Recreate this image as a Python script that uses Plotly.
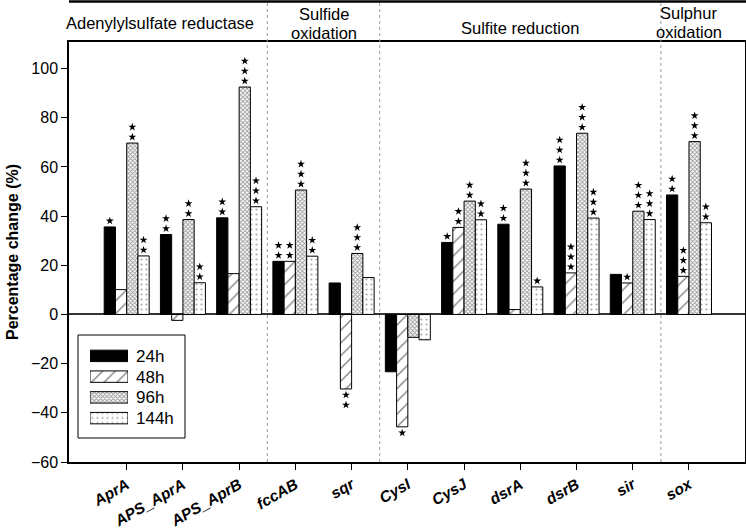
import plotly.graph_objects as go

categories = ["AprA", "APS_AprA", "APS_AprB", "fccAB", "sqr", "CysI", "CysJ", "dsrA", "dsrB", "sir", "sox"]
series_names = ["24h", "48h", "96h", "144h"]
v24 = [35.6, 32.5, 39.3, 21.6, 12.8, -23.3, 29.3, 36.7, 60.4, 16.3, 48.6]
v48 = [10.1, -2.4, 16.6, 21.6, -30.3, -45.7, 35.4, 2.0, 16.9, 12.8, 15.5]
v96 = [69.7, 38.6, 92.5, 50.6, 24.8, -9.3, 46.1, 51.0, 73.7, 42.0, 70.3]
v144 = [23.8, 12.9, 43.8, 23.7, 15.0, -10.3, 38.5, 11.2, 39.2, 38.6, 37.3]
# number of significance asterisks per bar
s24 = [1, 2, 2, 2, 0, 0, 1, 2, 3, 0, 2]
s48 = [0, 0, 0, 2, 2, 1, 2, 0, 3, 1, 3]
s96 = [2, 2, 3, 3, 3, 0, 2, 3, 3, 3, 3]
s144 = [2, 2, 3, 2, 0, 0, 2, 1, 3, 3, 2]
group_labels = ["Adenylylsulfate reductase", "Sulfide<br>oxidation", "Sulfite reduction", "Sulphur<br>oxidation"]
group_bounds = [(-0.5, 2.5), (2.5, 4.5), (4.5, 9.5), (9.5, 10.5)]
separators = [2.5, 4.5, 9.5]
y_ticks = [-60, -40, -20, 0, 20, 40, 60, 80, 100]

values = [v24, v48, v96, v144]
stars = [s24, s48, s96, s144]
patterns = [
    dict(shape="", fillmode="replace"),
    dict(shape="/", fgcolor="black", bgcolor="white", size=9, solidity=0.15),
    dict(shape="x", fgcolor="#333333", bgcolor="white", size=3, solidity=0.5),
    dict(shape=".", fgcolor="#555555", bgcolor="white", size=5, solidity=0.15),
]
colors = ["black", "white", "white", "white"]

# plot area in pixels
L, R, T, B = 69, 745, 42, 462
W, H = R - L, B - T


def px2paper(px):
    return (px - L) / W


def py2paper(py):
    return (B - py) / H


xs = list(range(len(categories)))
bw = 0.2
fig = go.Figure()
star_x, star_y = [], []
for j, name in enumerate(series_names):
    off = -2 * bw + j * bw
    fig.add_trace(go.Bar(
        x=xs, y=values[j], name=name, width=bw, offset=off, showlegend=False,
        marker=dict(color=colors[j], pattern=patterns[j], line=dict(color="black", width=1)),
    ))
    for i, v in enumerate(values[j]):
        for k in range(stars[j][i]):
            d = (6 + 10 * k) / 2.459
            star_x.append(i + off + bw / 2)
            star_y.append(v + d if v >= 0 else v - d)

fig.add_trace(go.Scatter(x=star_x, y=star_y, mode="markers", showlegend=False,
                         marker=dict(symbol="star", size=6, color="black")))

# custom legend: patterned swatches on a small auxiliary axis
for j, name in enumerate(series_names):
    fig.add_trace(go.Bar(
        x=[1], y=[j], base=0, orientation="h", width=0.55, xaxis="x2", yaxis="y2",
        showlegend=False, hoverinfo="skip",
        marker=dict(color=colors[j], pattern=patterns[j], line=dict(color="black", width=1)),
    ))

shapes = []
for s in separators:
    shapes.append(dict(type="line", xref="x", yref="paper", x0=s, x1=s, y0=0, y1=1.093,
                       line=dict(color="#9a9a9a", width=1, dash="dot")))
shapes.append(dict(type="line", xref="paper", yref="paper", x0=0, x1=1.002, y0=1.0965, y1=1.0965,
                   line=dict(color="black", width=2.5)))
shapes.append(dict(type="rect", xref="paper", yref="paper", x0=px2paper(78), x1=px2paper(185),
                   y0=py2paper(438), y1=py2paper(335), line=dict(color="black", width=1),
                   fillcolor="white", layer="below"))

# header text: pixel y of each line
line_pos = [[23], [14, 33], [28], [13, 32]]
label_x = [0.6, None, None, None]
annotations = []
for gi, (lab, (a, b)) in enumerate(zip(group_labels, group_bounds)):
    parts = lab.split("<br>")
    xc = label_x[gi] if label_x[gi] is not None else (a + b) / 2
    for part, pyv in zip(parts, line_pos[gi]):
        annotations.append(dict(text=part, x=xc, xref="x", y=py2paper(pyv), yref="paper",
                                showarrow=False, font=dict(size=16.5, color="black"),
                                xanchor="center", yanchor="middle"))

legend_rows = [356, 377, 397.6, 418]
for name, pyv in zip(series_names, legend_rows):
    annotations.append(dict(text=name, x=px2paper(134), xref="paper", y=py2paper(pyv), yref="paper",
                            showarrow=False, font=dict(size=17, color="black"),
                            xanchor="left", yanchor="middle"))

fig.update_layout(
    width=746, height=532,
    margin=dict(l=L, r=746 - R, t=T, b=532 - B),
    paper_bgcolor="white", plot_bgcolor="white",
    font=dict(family="Liberation Sans, Arial, sans-serif", color="black", size=16),
    barmode="overlay", showlegend=False,
    shapes=shapes, annotations=annotations,
    xaxis=dict(range=[-1.026, 10.996], tickvals=xs, ticktext=categories, tickangle=-30,
               tickfont=dict(size=15.5, weight="bold", style="italic"),
               ticks="outside", ticklen=6, tickcolor="black", showline=True, linecolor="black",
               linewidth=1.5, mirror=True, showgrid=False, zeroline=False, automargin=False),
    yaxis=dict(range=[-60, 110.8], tickvals=y_ticks, ticks="outside", ticklen=6, tickcolor="black",
               showline=True, linecolor="black", linewidth=1.5, mirror=True, showgrid=False,
               zeroline=True, zerolinecolor="#333333", zerolinewidth=1.5,
               tickfont=dict(size=16), automargin=False,
               title=dict(text="<b>Percentage change (%)</b>", font=dict(size=16), standoff=8)),
    xaxis2=dict(domain=[px2paper(90), px2paper(128)], range=[0, 1], anchor="y2", visible=False,
                fixedrange=True),
    yaxis2=dict(domain=[py2paper(428.5), py2paper(345.5)], range=[3.5, -0.5], anchor="x2",
                visible=False, fixedrange=True),
)

fig.write_html("out.html", post_script="document.body.style.margin='0';",
               config={"displayModeBar": False})
